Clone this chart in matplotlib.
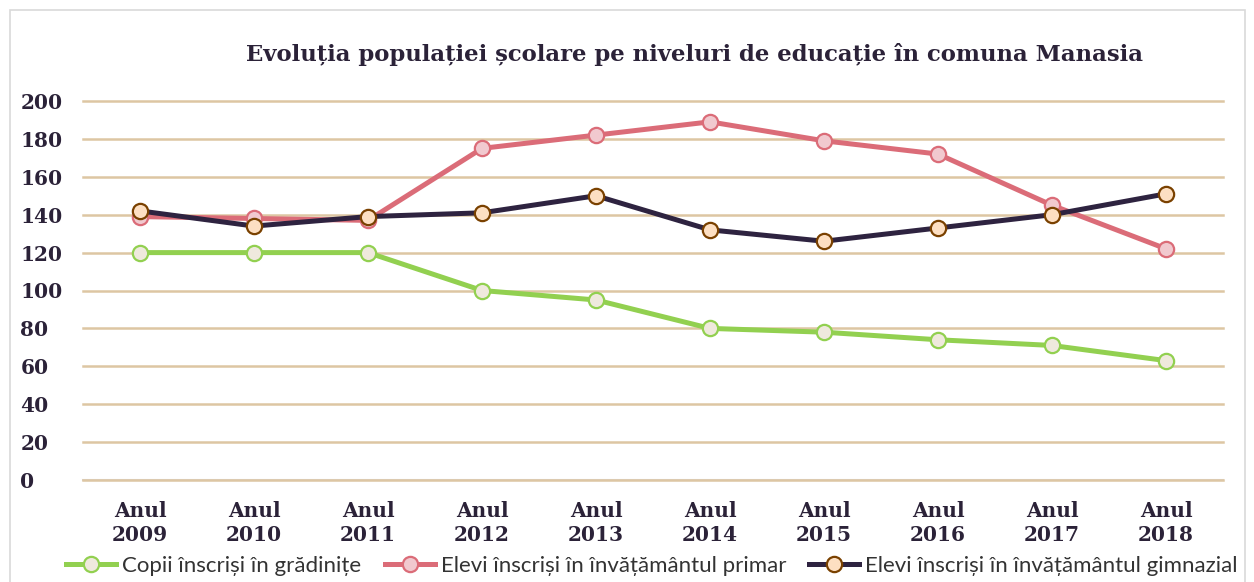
import matplotlib
matplotlib.use('Agg')
import matplotlib.pyplot as plt
from matplotlib.patches import Rectangle

# Data
years = ['2009', '2010', '2011', '2012', '2013', '2014', '2015', '2016', '2017', '2018']
x_labels = ['Anul\n' + y for y in years]
gradinite = [120, 120, 120, 100, 95, 80, 78, 74, 71, 63]
primar = [139, 138, 137, 175, 182, 189, 179, 172, 145, 122]
gimnazial = [142, 134, 139, 141, 150, 132, 126, 133, 140, 151]
y_ticks = [0, 20, 40, 60, 80, 100, 120, 140, 160, 180, 200]

TITLE = 'Evoluția populației școlare pe niveluri de educație în comuna Manasia'
names = ['Copii înscriși în grădinițe',
         'Elevi înscriși în învățământul primar',
         'Elevi înscriși în învățământul gimnazial']

TEXT_COL = '#2B2238'
GRID_COL = '#DDC6A3'

fig = plt.figure(figsize=(12.54, 5.82), dpi=100)
ax = fig.add_axes([83 / 1254, 1 - 480 / 582, 1140 / 1254, 379 / 582])

x = list(range(len(years)))
styles = [
    (gradinite, '#92D050', '#EFE9DD', '#92D050'),
    (primar, '#DB6C78', '#F1C9CF', '#DB6C78'),
    (gimnazial, '#2E2340', '#FDDFC2', '#7A4100'),
]
for (vals, col, face, edge), name in zip(styles, names):
    ax.plot(x, vals, color=col, lw=3.6, marker='o', ms=11,
            mfc=face, mec=edge, mew=1.6, label=name, zorder=3)

ax.set_xlim(-0.5, len(years) - 0.5)
ax.set_ylim(0, 200)
ax.set_yticks(y_ticks)
ax.set_yticklabels([str(v) for v in y_ticks])
ax.set_xticks(x)
ax.set_xticklabels(x_labels, linespacing=1.25)
ax.grid(axis='y', color=GRID_COL, lw=1.8, zorder=0)
for gl in ax.get_ygridlines():
    gl.set_clip_on(False)
ax.tick_params(length=0)
ax.tick_params(axis='x', pad=15)
for lbl in ax.get_yticklabels():
    lbl.set_horizontalalignment('left')
ax.tick_params(axis='y', pad=45)
for lbl in ax.get_xticklabels() + ax.get_yticklabels():
    lbl.set_family('DejaVu Serif')
    lbl.set_fontweight('bold')
    lbl.set_fontsize(14.5)
    lbl.set_color(TEXT_COL)
for s in ['top', 'right', 'left']:
    ax.spines[s].set_visible(False)
ax.spines['bottom'].set_color('#D9D9D9')
ax.spines['bottom'].set_linewidth(1.5)
ax.spines['bottom'].set_zorder(1)

fig.text(694 / 1254, 1 - 55 / 582, TITLE, ha='center', va='center',
         family='DejaVu Serif', fontweight='bold', fontsize=16.4,
         color=TEXT_COL)

leg = fig.legend(loc='center', bbox_to_anchor=(652 / 1254, 1 - 566 / 582), ncol=3,
                 frameon=False, prop={'family': 'Lato', 'size': 16},
                 handlelength=2.25, handletextpad=0.27, columnspacing=1.05,
                 borderpad=0.1, borderaxespad=0)
for t in leg.get_texts():
    t.set_color('#333333')

# light border around the chart area
fig.patches.append(Rectangle((10 / 1254, -0.01), 1235 / 1254, 1 - 10 / 582 + 0.01,
                             transform=fig.transFigure, fill=False,
                             edgecolor='#D9D9D9', lw=1.2))

fig.savefig('out.png', dpi=100)
